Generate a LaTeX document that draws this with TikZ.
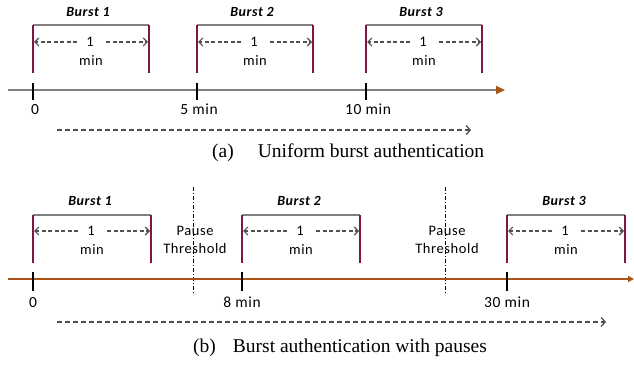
\documentclass[tikz,border=0pt]{standalone}
\usepackage{fontspec}
\setmainfont{Liberation Serif}
\newfontfamily\calfont[LetterSpace=4]{Carlito}
\usetikzlibrary{arrows.meta}
\definecolor{burstred}{RGB}{128,20,72}
\definecolor{linegray}{RGB}{128,128,128}
\definecolor{axisbrown}{RGB}{168,84,22}
\definecolor{dashgray}{RGB}{80,80,80}
\tikzset{>=stealth}

\begin{document}
\begin{tikzpicture}[x=1pt,y=-1pt,
    burstlabel/.style={font=\calfont\fontsize{14}{16}\selectfont\bfseries\itshape, inner sep=0pt},
    durtext/.style={font=\calfont\fontsize{14.5}{18}\selectfont, inner sep=0pt},
    ticklabel/.style={font=\calfont\fontsize{15.5}{17}\selectfont, inner sep=0pt, anchor=north},
    captiontext/.style={font=\fontsize{19.5}{21}\selectfont, inner sep=0pt, anchor=west},
    bracktop/.style={draw=linegray, line width=1.2pt},
    brackside/.style={draw=burstred, line width=1.4pt},
    inarrow/.style={draw=dashgray, dash pattern=on 4pt off 2.5pt, line width=1.1pt, -{Straight Barb[length=4pt,width=8pt]}},
    timearrow/.style={draw=dashgray, dash pattern=on 5pt off 3pt, line width=1.3pt, -{Straight Barb[length=4pt,width=9pt]}},
    tick/.style={draw=black, line width=1.6pt},
    pauseline/.style={draw=black, dash pattern=on 4pt off 2pt on 1pt off 2pt, line width=0.8pt}]
  \useasboundingbox (0,0) rectangle (634,366);

  % (a) uniform bursts
  \foreach \l/\r/\n in {33/149/1, 197/313/2, 366/482/3} {
    \coordinate (atl\n) at (\l,25);
    \coordinate (atr\n) at (\r,25);
    \coordinate (abl\n) at (\l,73);
    \coordinate (abr\n) at (\r,73);
    \node[burstlabel] (aburst\n) at ({(\l+\r)/2-3},12) {Burst \n};
    \node[durtext] (aone\n) at ({(\l+\r)/2-1},42) {1};
    \node[durtext] (amin\n) at ({(\l+\r)/2},61) {min};
    \draw[bracktop] (atl\n) -- (atr\n);
    \draw[brackside] (atl\n) -- (abl\n);
    \draw[brackside] (atr\n) -- (abr\n);
    \draw[inarrow] ({(\l+\r)/2-14},42) -- (\l+1,42);
    \draw[inarrow] ({(\l+\r)/2+15},42) -- (\r-1,42);
  }
  \coordinate (astart) at (8,90);
  \coordinate (aend) at (505,90);
  \draw[draw=linegray, line width=1.8pt, -{Triangle[length=9pt,width=8pt,color=axisbrown]}] (astart) -- (aend);
  \foreach \x/\t/\n in {33/0/0, 197/5 min/5, 366/10 min/10} {
    \draw[tick] (\x,83) -- (\x,100);
    \node[ticklabel] (atick\n) at (\x+2,104) {\t};
  }
  \coordinate (aflowl) at (57,130);
  \coordinate (aflowr) at (471,130);
  \draw[timearrow] (aflowl) -- (aflowr);
  \node[captiontext] (acap) at (212,153) {(a)\hspace{24pt}Uniform burst authentication};

  % (b) bursts with pauses
  \foreach \l/\r/\n in {33/151/1, 242/360/2, 507/625/3} {
    \coordinate (btl\n) at (\l,215);
    \coordinate (btr\n) at (\r,215);
    \coordinate (bbl\n) at (\l,263);
    \coordinate (bbr\n) at (\r,263);
    \node[burstlabel] (bburst\n) at ({(\l+\r)/2-2},201) {Burst \n};
    \node[durtext] (bone\n) at ({(\l+\r)/2-1},231) {1};
    \node[durtext] (bmin\n) at ({(\l+\r)/2},250) {min};
    \draw[bracktop] (btl\n) -- (btr\n);
    \draw[brackside] (btl\n) -- (bbl\n);
    \draw[brackside] (btr\n) -- (bbr\n);
    \draw[inarrow] ({(\l+\r)/2-14},231) -- (\l+1,231);
    \draw[inarrow] ({(\l+\r)/2+15},231) -- (\r-1,231);
  }
  \foreach \x/\n in {193/1, 445/2} {
    \draw[pauseline] (\x,187) -- (\x,295);
    \node[durtext, align=center] (pause\n) at (\x+2,240) {Pause\\Threshold};
  }
  \coordinate (bstart) at (8,279);
  \coordinate (bend) at (634,279);
  \draw[draw=axisbrown, line width=2.6pt, -{Triangle[length=6pt,width=6pt]}] (bstart) -- (bend);
  \foreach \x/\t/\n in {33/0/0, 242/8 min/8, 507/30 min/30} {
    \draw[tick] (\x,272) -- (\x,291);
    \node[ticklabel] (btick\n) at (\x,297) {\t};
  }
  \coordinate (bflowl) at (57,322);
  \coordinate (bflowr) at (606,322);
  \draw[timearrow] (bflowl) -- (bflowr);
  \node[captiontext] (bcap) at (193,348) {(b)\hspace{17pt}Burst authentication with pauses};
\end{tikzpicture}
\end{document}
